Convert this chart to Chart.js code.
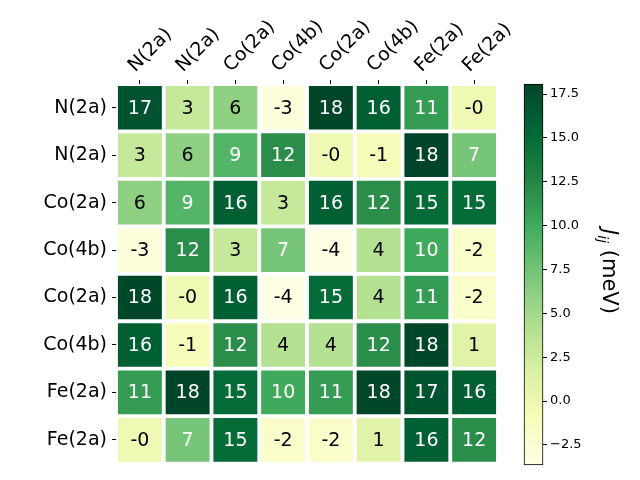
<!DOCTYPE html>
<html>
<head>
<meta charset="utf-8">
<script src="https://cdn.jsdelivr.net/npm/chart.js@4"></script>
<style>
  body { margin: 0; background: #fff; }
  #wrap { position: relative; width: 640px; height: 480px; }
  #wrap canvas { position: absolute; left: 0; top: 0; }
</style>
</head>
<body>
<div id="wrap">
  <canvas id="heat" width="640" height="480"></canvas>
  <canvas id="cbar" width="640" height="480"></canvas>
</div>
<script>
// site labels (same on both axes)
const siteLabels = ['N(2a)', 'N(2a)', 'Co(2a)', 'Co(4b)', 'Co(2a)', 'Co(4b)', 'Fe(2a)', 'Fe(2a)'];

// J_ij matrix, one row per site (meV)
const rowN1  = [17, 3, 6, -3, 18, 16, 11, -0.3];
const rowN2  = [3, 6, 9, 12, -0.3, -1, 18.07, 7.3];
const rowCo1 = [6, 9, 16, 3, 16, 12, 15, 15];
const rowCo2 = [-3, 12, 3, 7.3, -3.64, 4, 10, -2];
const rowCo3 = [18, -0.3, 16, -3.64, 15, 4, 11, -2];
const rowCo4 = [16, -1, 12, 4, 4, 12, 18, 1];
const rowFe1 = [11, 18.07, 15, 10, 11, 18, 17, 16];
const rowFe2 = [-0.3, 7.3, 15, -2, -2, 1, 16, 12];
const rows = [rowN1, rowN2, rowCo1, rowCo2, rowCo3, rowCo4, rowFe1, rowFe2];

// colorbar range and ticks
const vmin = -3.64;
const vmax = 18.07;
const cbTicks = [-2.5, 0, 2.5, 5, 7.5, 10, 12.5, 15, 17.5];

// YlGn colormap
const ylgn = ['#ffffe5', '#f7fcb9', '#d9f0a3', '#addd8e', '#78c679', '#41ab5d', '#238443', '#006837', '#004529'];

function hexRgb(h) {
  return [parseInt(h.slice(1, 3), 16), parseInt(h.slice(3, 5), 16), parseInt(h.slice(5, 7), 16)];
}
function cmap(v) {
  let t = (v - vmin) / (vmax - vmin);
  t = Math.max(0, Math.min(1, t));
  const p = t * (ylgn.length - 1);
  const i = Math.min(ylgn.length - 2, Math.floor(p));
  const f = p - i;
  const a = hexRgb(ylgn[i]), b = hexRgb(ylgn[i + 1]);
  const c = a.map((x, k) => Math.round(x + (b[k] - x) * f));
  return `rgb(${c[0]}, ${c[1]}, ${c[2]})`;
}

const font = 'DejaVu Sans';
const mid = (vmin + vmax) / 2;

// cell text
const annotate = {
  id: 'annotate',
  afterDatasetsDraw(chart) {
    const ctx = chart.ctx;
    ctx.save();
    ctx.font = `19px "${font}"`;
    ctx.textAlign = 'center';
    ctx.textBaseline = 'middle';
    chart.data.datasets.forEach((ds, r) => {
      chart.getDatasetMeta(r).data.forEach((el, c) => {
        const v = rows[r][c];
        ctx.fillStyle = v > mid ? '#fff' : '#000';
        ctx.fillText(v.toFixed(0), el.x, (el.y + el.base) / 2 + 1);
      });
    });
    ctx.restore();
  }
};

new Chart(document.getElementById('heat'), {
  type: 'bar',
  data: {
    labels: siteLabels,
    datasets: rows.map((row, r) => ({
      data: row.map(() => [r + 0.04, r + 0.96]),
      backgroundColor: row.map(v => cmap(v)),
      borderWidth: 0,
      grouped: false,
      barPercentage: 0.92,
      categoryPercentage: 1
    }))
  },
  options: {
    responsive: false,
    animation: false,
    devicePixelRatio: 1,
    layout: { padding: { left: 0, top: 0, right: 142, bottom: 14 } },
    plugins: { legend: { display: false }, tooltip: { enabled: false } },
    scales: {
      x: {
        position: 'top',
        grid: { offset: false, drawOnChartArea: false, drawTicks: true, tickLength: 4, color: '#000' },
        border: { display: false },
        ticks: {
          autoSkip: false, minRotation: 45, maxRotation: 45, padding: 3, labelOffset: 8,
          color: '#000', font: { family: font, size: 19 }
        },
        afterFit: (s) => { s.height = 84; }
      },
      y: {
        type: 'linear',
        min: 0, max: 8, reverse: true,
        grid: { drawOnChartArea: false, drawTicks: true, tickLength: 4, color: '#000' },
        border: { display: false },
        afterBuildTicks: (s) => { s.ticks = siteLabels.map((_, i) => ({ value: i + 0.5 })); },
        ticks: {
          padding: 5, color: '#000', font: { family: font, size: 19 },
          callback: (v, i) => siteLabels[i]
        },
        afterFit: (s) => { s.width = 116; }
      }
    }
  },
  plugins: [annotate]
});

// colorbar label: J_ij (meV)
const cbTitle = {
  id: 'cbTitle',
  afterDraw(chart) {
    const ctx = chart.ctx;
    const a = chart.chartArea;
    ctx.save();
    ctx.translate(608, (a.top + a.bottom) / 2 - 3);
    ctx.rotate(Math.PI / 2);
    ctx.fillStyle = '#000';
    ctx.textBaseline = 'middle';
    const f1 = `italic 21px "${font}"`, f2 = `italic 14px "${font}"`, f3 = `21px "${font}"`;
    ctx.font = f1; const w1 = ctx.measureText('J').width;
    ctx.font = f2; const w2 = ctx.measureText('ij').width;
    ctx.font = f3; const w3 = ctx.measureText(' (meV)').width;
    let x = -(w1 + w2 + w3) / 2;
    ctx.font = f1; ctx.fillText('J', x, 0); x += w1;
    ctx.font = f2; ctx.fillText('ij', x, 6); x += w2;
    ctx.font = f3; ctx.fillText(' (meV)', x, 0);
    ctx.restore();
  }
};

new Chart(document.getElementById('cbar'), {
  type: 'bar',
  data: {
    labels: [''],
    datasets: [{
      data: [[vmin, vmax]],
      backgroundColor: (c) => {
        const area = c.chart.chartArea;
        if (!area) return ylgn[4];
        const g = c.chart.ctx.createLinearGradient(0, area.bottom, 0, area.top);
        ylgn.forEach((col, i) => g.addColorStop(i / (ylgn.length - 1), col));
        return g;
      },
      borderColor: '#000',
      borderWidth: 1,
      borderSkipped: false,
      barPercentage: 1,
      categoryPercentage: 1,
      clip: false
    }]
  },
  options: {
    responsive: false,
    animation: false,
    devicePixelRatio: 1,
    layout: { padding: { left: 524, top: 84, right: 37, bottom: 15 } },
    plugins: { legend: { display: false }, tooltip: { enabled: false } },
    scales: {
      x: { display: false },
      y: {
        position: 'right',
        min: vmin, max: vmax,
        grid: { drawOnChartArea: false, drawTicks: true, tickLength: 4, color: '#000' },
        border: { display: false },
        afterBuildTicks: (s) => { s.ticks = cbTicks.map(v => ({ value: v })); },
        ticks: {
          padding: 3, color: '#000', font: { family: font, size: 13 },
          callback: (v) => v.toFixed(1).replace('-', '\u2212')
        },
        afterFit: (s) => { s.width = 60; }
      }
    }
  },
  plugins: [cbTitle]
});
</script>
</body>
</html>
